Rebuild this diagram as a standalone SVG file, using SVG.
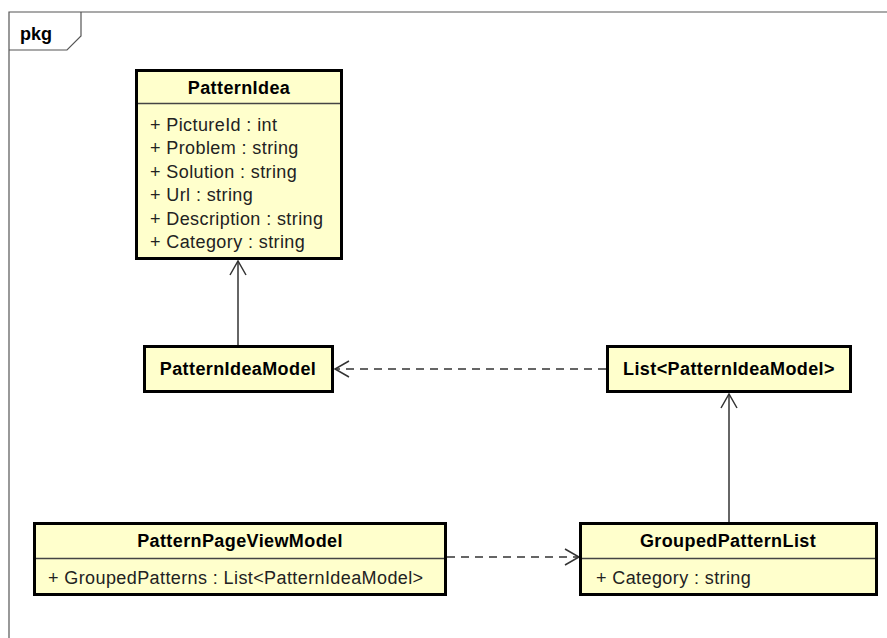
<svg xmlns="http://www.w3.org/2000/svg" width="887" height="638" viewBox="0 0 887 638">
  <defs>
    <style>
      .frame { fill: none; stroke: #555; stroke-width: 1.2; }
      .box { fill: #FFFFCC; stroke: #000; stroke-width: 3; }
      .sep { stroke: #444; stroke-width: 1.5; }
      .title { font-family: "Liberation Sans", Arial, sans-serif; font-size: 18px; letter-spacing: 0.4px; font-weight: bold; fill: #000; text-anchor: middle; }
      .attr { font-family: "Liberation Sans", Arial, sans-serif; font-size: 18px; letter-spacing: 0.4px; fill: #222; }
      .line { fill: none; stroke: #333; stroke-width: 1.5; }
      .dash { stroke-dasharray: 8 6; }
      .head { fill: none; stroke: #333; stroke-width: 1.5; }
    </style>
  </defs>
  <rect width="887" height="638" fill="#fff"/>

  <!-- package frame -->
  <g id="frame">
    <path class="frame" d="M9,638 V12 H887"/>
    <path class="frame" d="M9,50 H67 L81,36 V12"/>
    <text x="20" y="40" font-family="Liberation Sans, Arial, sans-serif" font-size="18" font-weight="bold">pkg</text>
  </g>

  <!-- connectors -->
  <g id="connectors">
    <path class="line" d="M238,346 V261"/>
    <path class="head" d="M230,275 L238,261 L246,275"/>
    <path class="line dash" d="M606,369 H335"/>
    <path class="head" d="M349,361 L335,369 L349,377"/>
    <path class="line" d="M729,522 V394"/>
    <path class="head" d="M721,408 L729,394 L737,408"/>
    <path class="line dash" d="M447,557 H579"/>
    <path class="head" d="M565,549 L579,557 L565,565"/>
  </g>

  <g id="PatternIdea">
    <rect class="box" x="136.5" y="70.5" width="205" height="188"/>
    <line class="sep" x1="138" y1="103.5" x2="340" y2="103.5"/>
    <text class="title" x="239" y="94">PatternIdea</text>
    <text class="attr" x="150" y="131">+ PictureId : int</text>
    <text class="attr" x="150" y="154.4">+ Problem : string</text>
    <text class="attr" x="150" y="177.8">+ Solution : string</text>
    <text class="attr" x="150" y="201.2">+ Url : string</text>
    <text class="attr" x="150" y="224.6">+ Description : string</text>
    <text class="attr" x="150" y="248">+ Category : string</text>
  </g>

  <g id="PatternIdeaModel">
    <rect class="box" x="144.5" y="346.5" width="188" height="45"/>
    <text class="title" x="238" y="375">PatternIdeaModel</text>
  </g>

  <g id="ListPatternIdeaModel">
    <rect class="box" x="607.5" y="346.5" width="243" height="45"/>
    <text class="title" x="729" y="375">List&lt;PatternIdeaModel&gt;</text>
  </g>

  <g id="PatternPageViewModel">
    <rect class="box" x="34.5" y="523.5" width="411" height="71"/>
    <line class="sep" x1="36" y1="558.5" x2="444" y2="558.5"/>
    <text class="title" x="240" y="547">PatternPageViewModel</text>
    <text class="attr" x="48" y="584">+ GroupedPatterns : List&lt;PatternIdeaModel&gt;</text>
  </g>

  <g id="GroupedPatternList">
    <rect class="box" x="580.5" y="523.5" width="296" height="71"/>
    <line class="sep" x1="582" y1="558.5" x2="875" y2="558.5"/>
    <text class="title" x="728" y="547">GroupedPatternList</text>
    <text class="attr" x="596" y="584">+ Category : string</text>
  </g>
</svg>
